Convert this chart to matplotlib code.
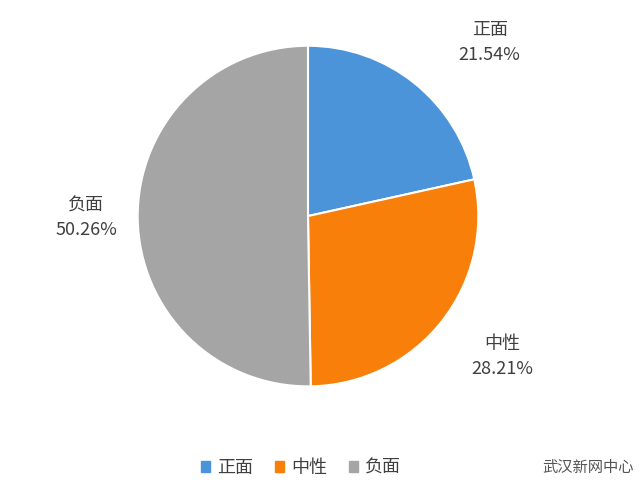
import matplotlib
matplotlib.use("Agg")
import matplotlib.pyplot as plt
from matplotlib.patches import Patch

plt.rcParams['font.family'] = ['Noto Sans CJK SC', 'DejaVu Sans']

labels = ["正面", "中性", "负面"]
values = [21.54, 28.21, 50.26]
colors = ["#4C94DA", "#F77F0A", "#A5A5A5"]

fig = plt.figure(figsize=(6.4, 4.95), dpi=100)
ax = fig.add_axes([0.2125, 0.216, 0.5375, 0.695])
ax.pie(values, colors=colors, startangle=90, counterclock=False,
       wedgeprops=dict(edgecolor="white", linewidth=1.5))
ax.set_xlim(-1.01, 1.01)
ax.set_ylim(-1.01, 1.01)
ax.set_aspect("equal")

# data labels (name + percent)
label_pos = [(0.765, 0.915), (0.785, 0.28), (0.135, 0.56)]
for (x, y), name, v in zip(label_pos, labels, values):
    fig.text(x, y, "{}\n{:.2f}%".format(name, v), ha="center", va="center",
             fontsize=13, color="#404040", linespacing=1.5)

handles = [Patch(color=c, label=l) for c, l in zip(colors, labels)]
fig.legend(handles=handles, loc="center", bbox_to_anchor=(0.47, 0.055), ncol=3,
           frameon=False, fontsize=13, handlelength=0.5, handleheight=0.5,
           handletextpad=0.4, columnspacing=1.2, labelcolor="#404040")

fig.text(0.99, 0.055, "武汉新网中心", ha="right", va="center", fontsize=11, color="#555555")

fig.savefig("out.png", dpi=100)
